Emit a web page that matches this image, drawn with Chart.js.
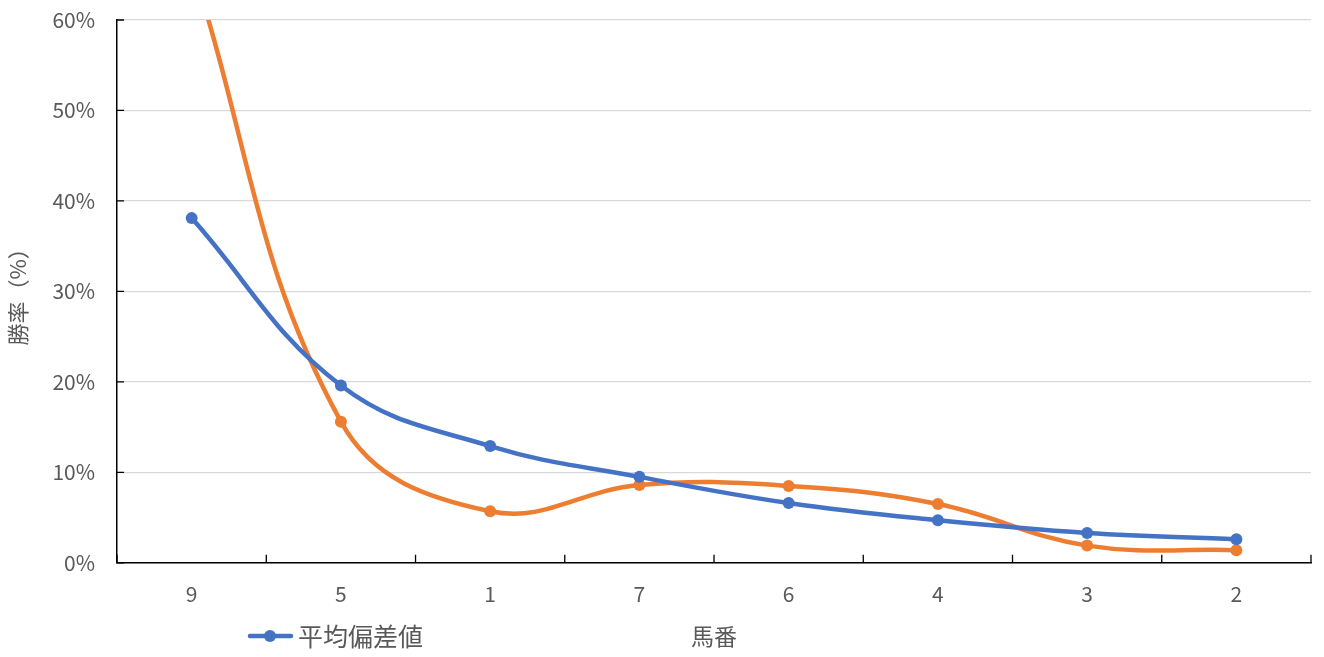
<!DOCTYPE html>
<html>
<head>
<meta charset="utf-8">
<script src="https://cdn.jsdelivr.net/npm/chart.js@4/dist/chart.umd.min.js"></script>
<style>
  html, body { margin: 0; padding: 0; background: #fff; }
  #wrap { width: 1324px; height: 657px; }
</style>
</head>
<body>
<div id="wrap"><canvas id="chart"></canvas></div>
<script>
const horseNumbers = ['9', '5', '1', '7', '6', '4', '3', '2'];
const avgDeviation = [38.1, 19.6, 12.9, 9.5, 6.6, 4.7, 3.3, 2.6];
const winRate = [66, 15.6, 5.7, 8.6, 8.5, 6.5, 1.9, 1.4];
const yTicks = [0, 10, 20, 30, 40, 50, 60];

const FONT = '"Noto Sans CJK JP", "Noto Sans", sans-serif';
const GREY = '#595959';
const BLUE = '#4472C4';
const ORANGE = '#ED7D31';

// inside tick marks, legend row and x title
const extras = {
    id: 'extras',
    afterDraw(chart) {
        const ctx = chart.ctx;
        const x = chart.scales.x;
        const y = chart.scales.y;
        const area = chart.chartArea;
        ctx.save();
        ctx.strokeStyle = '#000';
        ctx.lineWidth = 1.3;
        ctx.beginPath();
        // x ticks between categories
        const n = horseNumbers.length;
        for (let i = 0; i <= n; i++) {
            const px = i === 0 ? area.left : i === n ? area.right
                : (x.getPixelForValue(i - 1) + x.getPixelForValue(i)) / 2;
            ctx.moveTo(px, area.bottom);
            ctx.lineTo(px, area.bottom - 8);
        }
        yTicks.forEach(v => {
            const py = y.getPixelForValue(v);
            ctx.moveTo(area.left, py);
            ctx.lineTo(area.left + 7, py);
        });
        ctx.stroke();

        const rowY = 636;
        ctx.strokeStyle = BLUE;
        ctx.lineWidth = 4.5;
        ctx.lineCap = 'round';
        ctx.beginPath();
        ctx.moveTo(250, rowY);
        ctx.lineTo(291, rowY);
        ctx.stroke();
        ctx.fillStyle = BLUE;
        ctx.beginPath();
        ctx.arc(270, rowY, 6, 0, Math.PI * 2);
        ctx.fill();

        ctx.fillStyle = GREY;
        ctx.font = '25px ' + FONT;
        ctx.textBaseline = 'middle';
        ctx.textAlign = 'left';
        ctx.fillText(chart.data.datasets[0].label, 298, rowY);
        ctx.font = '23px ' + FONT;
        ctx.textAlign = 'center';
        ctx.fillText('馬番', (area.left + area.right) / 2, rowY);
        ctx.restore();
    }
};

const ctx = document.getElementById('chart').getContext('2d');
const chart = new Chart(ctx, {
    type: 'line',
    data: {
        labels: horseNumbers,
        datasets: [
            {
                label: '平均偏差値',
                data: avgDeviation,
                borderColor: BLUE,
                backgroundColor: BLUE,
                borderWidth: 4.5,
                pointRadius: 6,
                pointBorderWidth: 0,
                tension: 0.4
            },
            {
                label: '勝率',
                data: winRate,
                borderColor: ORANGE,
                backgroundColor: ORANGE,
                borderWidth: 4.5,
                pointRadius: 6,
                pointBorderWidth: 0,
                tension: 0.4
            }
        ]
    },
    options: {
        responsive: true,
        maintainAspectRatio: false,
        animation: false,
        layout: { padding: { top: 20, right: 13, bottom: 31, left: 4 } },
        plugins: {
            legend: { display: false },
            tooltip: { enabled: false }
        },
        scales: {
            x: {
                offset: true,
                grid: { display: true, drawOnChartArea: false, drawTicks: false, offset: true },
                border: { display: true, color: '#000', width: 1.5 },
                ticks: { color: GREY, font: { family: FONT, size: 21 }, padding: 19 }
            },
            y: {
                min: 0,
                max: 60,
                grid: { color: '#d9d9d9', lineWidth: 1.3, drawTicks: false },
                border: { display: true, color: '#000', width: 1.5 },
                afterFit(scale) {
                    scale.paddingTop = 0;
                },
                ticks: {
                    stepSize: 10,
                    color: GREY,
                    font: { family: FONT, size: 21 },
                    padding: 22,
                    callback: v => v + '%'
                },
                title: {
                    display: true,
                    text: '勝率（%）',
                    color: GREY,
                    font: { family: FONT, size: 22 },
                    padding: { top: 0, bottom: 0 }
                }
            }
        }
    },
    plugins: [extras]
});
</script>
</body>
</html>
